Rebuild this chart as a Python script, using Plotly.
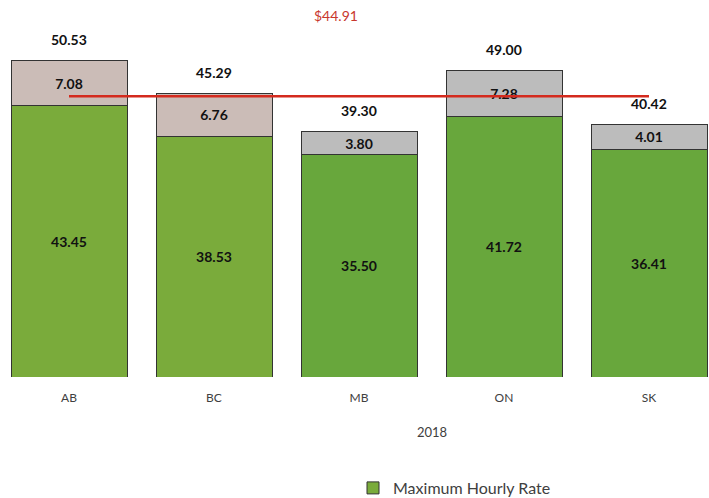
import plotly.graph_objects as go

categories = ["AB", "BC", "MB", "ON", "SK"]
max_hourly_rate = [43.45, 38.53, 35.50, 41.72, 36.41]
additional = [7.08, 6.76, 3.80, 7.28, 4.01]
totals = [50.53, 45.29, 39.30, 49.00, 40.42]
average = 44.91
x_title = "2018"

green_colors = ["#7aab3b", "#7aab3b", "#68a73c", "#68a73c", "#68a73c"]
top_colors = ["#cbbcb7", "#cbbcb7", "#bcbcbc", "#bcbcbc", "#bcbcbc"]

label_font = dict(family="Lato", size=14, color="#111111", weight="bold")

fig = go.Figure()
fig.add_trace(go.Bar(
    x=categories, y=max_hourly_rate, name="Maximum Hourly Rate",
    marker=dict(color=green_colors, line=dict(color="#333333", width=1)),
    text=[f"{v:.2f}" for v in max_hourly_rate], textposition="inside",
    insidetextanchor="middle", textangle=0, textfont=label_font,
    width=0.8,
))
fig.add_trace(go.Bar(
    x=categories, y=additional, name="Additional", showlegend=False,
    marker=dict(color=top_colors, line=dict(color="#333333", width=1)),
    text=[f"{v:.2f}" for v in additional], textposition="inside",
    insidetextanchor="middle", textangle=0, textfont=label_font,
    width=0.8,
))
fig.add_trace(go.Scatter(
    x=categories, y=[average] * len(categories), mode="lines",
    line=dict(color="#d42a1e", width=2.5), showlegend=False,
))

for c, t in zip(categories, totals):
    fig.add_annotation(x=c, y=t, text=f"{t:.2f}", showarrow=False,
                       yshift=21, font=label_font)

fig.add_annotation(xref="paper", yref="paper", x=336 / 709, y=(377 - 16) / 377,
                   yanchor="middle", text=f"${average:.2f}", showarrow=False,
                   font=dict(family="Lato", size=14, color="#c8372d"))
fig.add_annotation(xref="paper", yref="paper", x=432 / 709, y=(377 - 432) / 377,
                   yanchor="middle", text=x_title, showarrow=False,
                   font=dict(family="Lato", size=13, color="#404040"))

fig.update_layout(
    width=709, height=498,
    margin=dict(l=0, r=0, t=0, b=121, autoexpand=False),
    barmode="stack",
    plot_bgcolor="white", paper_bgcolor="white",
    font=dict(family="Lato", color="#404040"),
    xaxis=dict(range=[-69 / 145, 4 + 60 / 145], showgrid=False, showline=False,
               ticks="", ticklabelstandoff=12,
               tickfont=dict(size=12, color="#404040"), zeroline=False),
    yaxis=dict(range=[0, 377 / 6.254], visible=False),
    legend=dict(orientation="h", x=353 / 709, xanchor="left", y=(377 - 488) / 377,
                yanchor="middle", font=dict(family="Lato", size=16, color="#404040")),
    showlegend=True,
)

fig.write_html("out.html", config={"displayModeBar": False},
               post_script="document.body.style.margin='0';document.body.style.padding='0';")
